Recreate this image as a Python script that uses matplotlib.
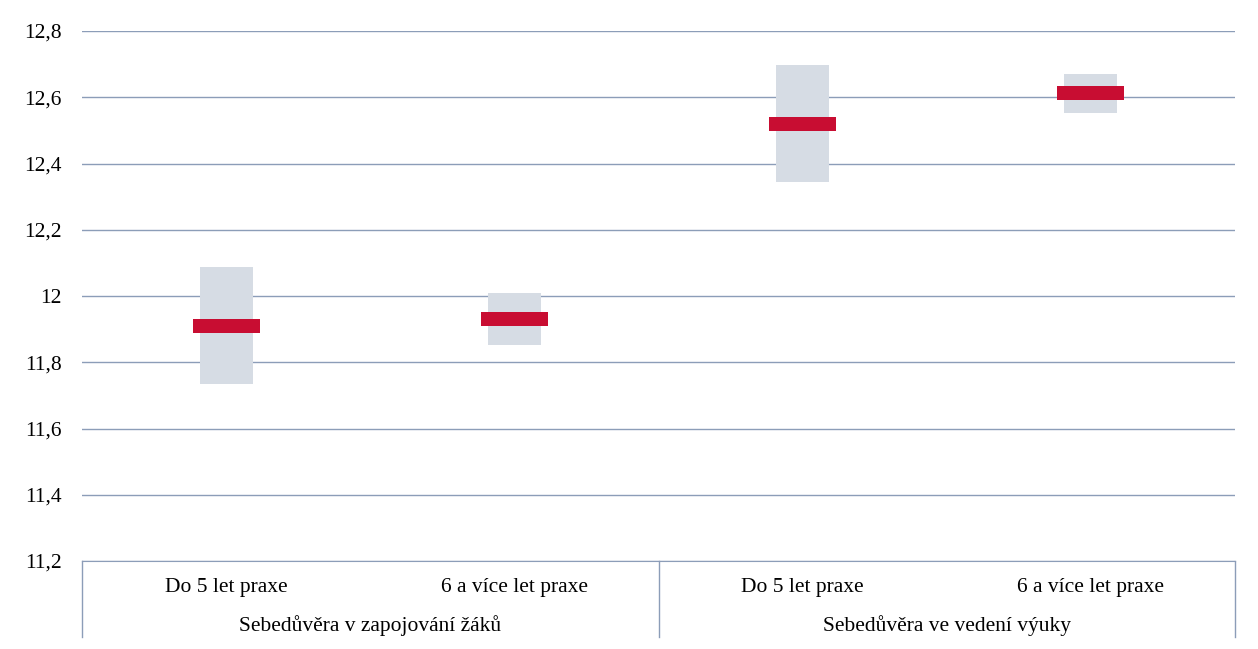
import matplotlib.pyplot as plt
from matplotlib.transforms import blended_transform_factory

plt.rcParams['font.family'] = ['Liberation Serif', 'DejaVu Serif']

# data
categories = ["Do 5 let praxe", "6 a více let praxe", "Do 5 let praxe", "6 a více let praxe"]
groups = ["Sebedůvěra v zapojování žáků", "Sebedůvěra ve vedení výuky"]
means = [11.91, 11.93, 12.52, 12.613]
ci_low = [11.734, 11.851, 12.345, 12.553]
ci_high = [12.088, 12.009, 12.697, 12.670]
yticks = [11.2, 11.4, 11.6, 11.8, 12.0, 12.2, 12.4, 12.6, 12.8]

grid_col = "#8C9DB8"
box_col = "#D6DCE4"
red_col = "#C80D32"
fs = 15.5

fig = plt.figure(figsize=(12.58, 6.49), dpi=100)
ax = fig.add_axes([82 / 1258, 88 / 649, (1235 - 82) / 1258, 530 / 649])

x = list(range(len(categories)))
heights = [h - l for l, h in zip(ci_low, ci_high)]
ax.bar(x, heights, bottom=ci_low, width=0.184, color=box_col, zorder=2)
bar_h = 0.041
ax.bar(x, [bar_h] * len(x), bottom=[m - bar_h / 2 for m in means], width=0.233,
       color=red_col, zorder=3)

ax.set_xlim(-0.5, len(x) - 0.5)
ax.set_ylim(11.2, 12.8)
ax.set_yticks(yticks)
ax.set_yticklabels([("%g" % v).replace(".", ",") for v in yticks], fontsize=fs)
ax.yaxis.grid(True, color=grid_col, linewidth=1)
ax.set_axisbelow(True)
ax.tick_params(axis='y', length=0, pad=14.4)
ax.tick_params(axis='x', length=0, pad=12.5)
ax.set_xticks(x)
ax.set_xticklabels(categories, fontsize=fs)

for s in ["top", "right", "left"]:
    ax.spines[s].set_visible(False)
ax.spines["bottom"].set_color(grid_col)

# group labels and separators below the axis
tr = blended_transform_factory(ax.transData, ax.transAxes)
for i, g in enumerate(groups):
    ax.text(2 * i + 0.5, -0.122, g, transform=tr, ha="center", va="center",
            fontsize=fs)
for xs in [-0.5, 1.5, 3.5]:
    ax.plot([xs, xs], [0, -0.144], transform=tr, color=grid_col, linewidth=1,
            clip_on=False)

fig.savefig("out.png", dpi=100)
